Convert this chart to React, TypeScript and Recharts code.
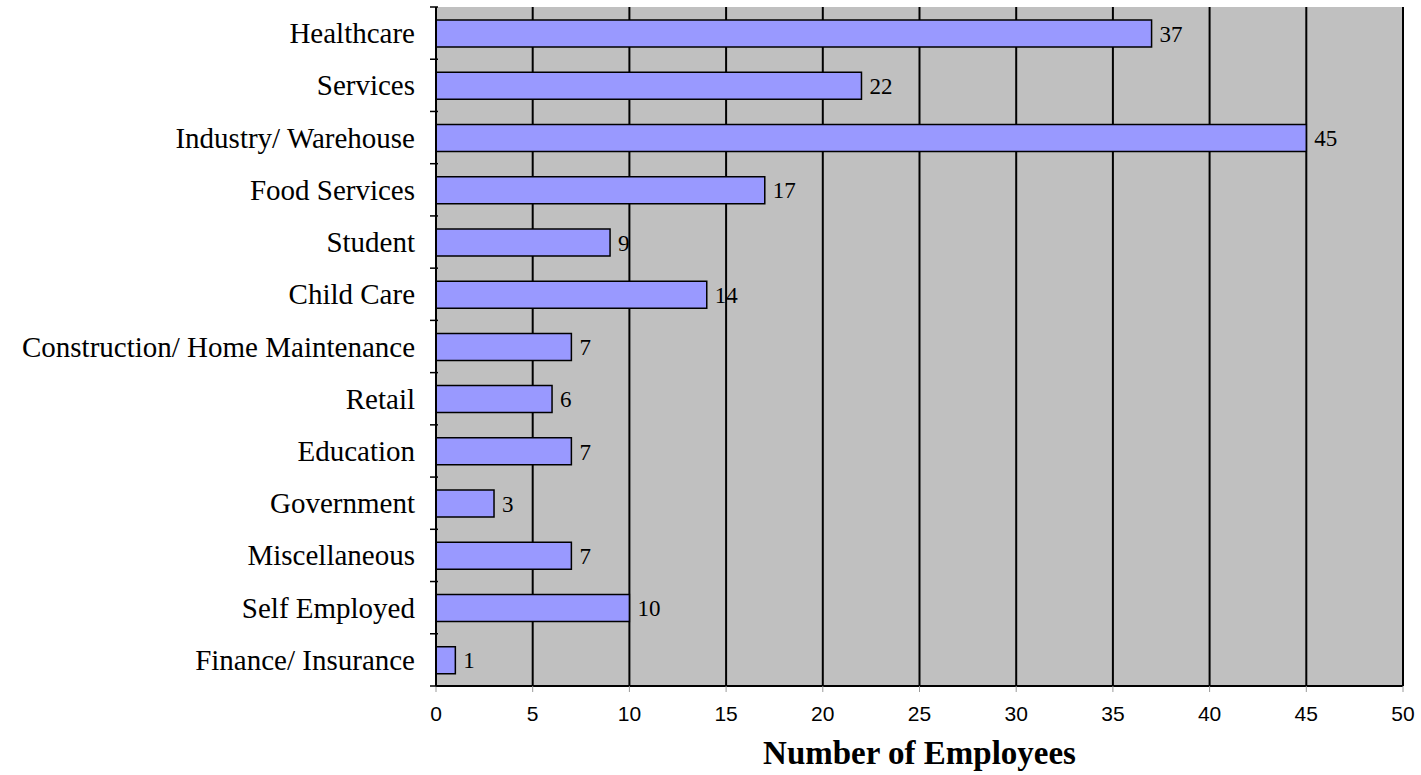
import { BarChart, Bar, XAxis, YAxis, CartesianGrid, LabelList } from "recharts";

const categories = [
    "Healthcare",
    "Services",
    "Industry/ Warehouse",
    "Food Services",
    "Student",
    "Child Care",
    "Construction/ Home Maintenance",
    "Retail",
    "Education",
    "Government",
    "Miscellaneous",
    "Self Employed",
    "Finance/ Insurance",
];
const employees = [37, 22, 45, 17, 9, 14, 7, 6, 7, 3, 7, 10, 1];
const xTicks = [0, 5, 10, 15, 20, 25, 30, 35, 40, 45, 50];

const data = categories.map((name, i) => ({ name, value: employees[i] }));

const W = 1421;
const H = 775;
const TOP = 7;
const BOTTOM = 89;
const BAND = (H - TOP - BOTTOM) / categories.length;
const SERIF = "'Liberation Serif', 'Times New Roman', serif";

function CategoryTick(props: any) {
    const { x, y, payload, index } = props;
    const last = index === categories.length - 1;
    return (
        <g>
            <line x1={x + 2} x2={x + 10} y1={y - BAND / 2} y2={y - BAND / 2} stroke="#000" strokeWidth={1.5} />
            {last && <line x1={x + 2} x2={x + 10} y1={y + BAND / 2} y2={y + BAND / 2} stroke="#000" strokeWidth={1.5} />}
            <text x={x - 13} y={y} textAnchor="end" dominantBaseline="central"
                fontFamily={SERIF} fontSize={29} fill="#000">
                {payload.value}
            </text>
        </g>
    );
}

function AxisTitle(props: any) {
    const { viewBox } = props;
    return (
        <text x={viewBox.x + viewBox.width / 2} y={viewBox.y + 78} textAnchor="middle"
            fontFamily={SERIF} fontWeight="bold" fontSize={33} fill="#000">
            Number of Employees
        </text>
    );
}

export default function App() {
    return (
        <div style={{ position: "absolute", left: 0, top: 0, background: "#fff" }}>
            <BarChart width={W} height={H} data={data} layout="vertical"
                margin={{ top: TOP, right: 18, bottom: 0, left: 0 }}>
                <CartesianGrid horizontal={false} fill="#C0C0C0" stroke="#000" strokeWidth={2} strokeOpacity={1} />
                <XAxis type="number" domain={[0, 50]} ticks={xTicks} interval={0} height={BOTTOM}
                    axisLine={{ stroke: "#000", strokeWidth: 2 }} tickLine={{ stroke: "#999" }} tickSize={6} tickMargin={14}
                    tick={{ fill: "#000", fontSize: 21, fontFamily: "'Liberation Sans', Arial, sans-serif" }}
                    label={<AxisTitle />} />
                <YAxis type="category" dataKey="name" width={436} interval={0}
                    axisLine={{ stroke: "#000", strokeWidth: 2 }} tickLine={false} tick={<CategoryTick />} />
                <Bar dataKey="value" fill="#9999FF" stroke="#000" strokeWidth={1.5} barSize={27} isAnimationActive={false}>
                    <LabelList dataKey="value" position="right" offset={8}
                        style={{ fill: "#000", fontSize: 23, fontFamily: SERIF }} />
                </Bar>
            </BarChart>
        </div>
    );
}
